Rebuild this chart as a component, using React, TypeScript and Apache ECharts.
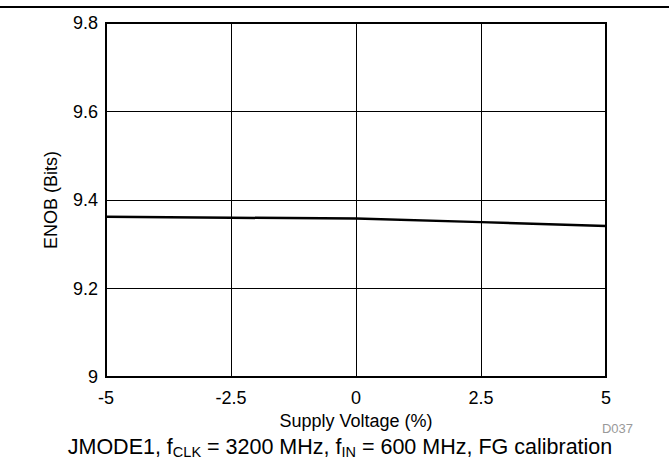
import React, { useEffect, useRef } from "react";
import * as echarts from "echarts";

const supplyVoltage = [-5, -2.5, 0, 2.5, 5];
const enob = [9.362, 9.36, 9.358, 9.35, 9.341];
const xTicks = ["-5", "-2.5", "0", "2.5", "5"];
const yTicks = ["9", "9.2", "9.4", "9.6", "9.8"];

export default function App() {
  const ref = useRef<HTMLDivElement>(null);
  useEffect(() => {
    if (!ref.current) return;
    const chart = echarts.init(ref.current, undefined, { renderer: "svg" });
    const font = "Liberation Sans, Arial, sans-serif";
    chart.setOption({
      animation: false,
      backgroundColor: "#fff",
      textStyle: { fontFamily: font },
      grid: {
        left: 106,
        right: 63,
        top: 23,
        bottom: 82,
        show: true,
        borderColor: "#000",
        borderWidth: 2,
      },
      xAxis: {
        type: "value",
        min: -5,
        max: 5,
        interval: 2.5,
        name: "Supply Voltage (%)",
        nameLocation: "middle",
        nameGap: 30,
        nameTextStyle: { color: "#000", fontSize: 18, fontFamily: font },
        axisLine: { show: true, onZero: false, lineStyle: { color: "#000", width: 2 } },
        axisTick: { show: false },
        axisLabel: {
          color: "#000",
          fontSize: 18,
          fontFamily: font,
          margin: 12,
          formatter: (v: number) => {
            const i = supplyVoltage.findIndex((s) => Math.abs(s - v) < 1e-6);
            return i >= 0 ? xTicks[i] : "";
          },
        },
        splitLine: { show: true, lineStyle: { color: "#000", width: 1 } },
      },
      yAxis: {
        type: "value",
        min: 9,
        max: 9.8,
        interval: 0.2,
        name: "ENOB (Bits)",
        nameLocation: "middle",
        nameGap: 46,
        nameTextStyle: { color: "#000", fontSize: 18, fontFamily: font },
        axisLine: { show: true, onZero: false, lineStyle: { color: "#000", width: 2 } },
        axisTick: { show: false },
        axisLabel: {
          color: "#000",
          fontSize: 18,
          fontFamily: font,
          margin: 8,
          formatter: (v: number) => {
            const i = Math.round((v - 9) / 0.2);
            return yTicks[i] ?? "";
          },
        },
        splitLine: { show: true, lineStyle: { color: "#000", width: 1 } },
      },
      series: [
        {
          type: "line",
          data: supplyVoltage.map((x, i) => [x, enob[i]]),
          showSymbol: false,
          lineStyle: { color: "#000", width: 2.5 },
        },
      ],
      graphic: [
        {
          type: "line",
          shape: { x1: 0, y1: 7, x2: 669, y2: 7 },
          style: { stroke: "#000", lineWidth: 2 },
        },
        {
          type: "text",
          x: 633,
          y: 428,
          style: {
            text: "D037",
            fill: "#999",
            fontSize: 13,
            fontFamily: font,
            align: "right",
            verticalAlign: "middle",
          },
        },
        {
          type: "text",
          x: 340,
          y: 447,
          style: {
            text: "JMODE1, f{sub|CLK} = 3200 MHz, f{sub|IN} = 600 MHz, FG calibration",
            fill: "#000",
            fontSize: 21.5,
            fontFamily: font,
            align: "center",
            verticalAlign: "middle",
            rich: {
              sub: { fontSize: 14.5, fontFamily: font, fill: "#000", padding: [10, 0, 0, 0] },
            },
          },
        },
      ],
    });
    return () => chart.dispose();
  }, []);
  return (
    <div
      ref={ref}
      style={{ position: "fixed", left: 0, top: 0, width: 669, height: 459 }}
    />
  );
}
